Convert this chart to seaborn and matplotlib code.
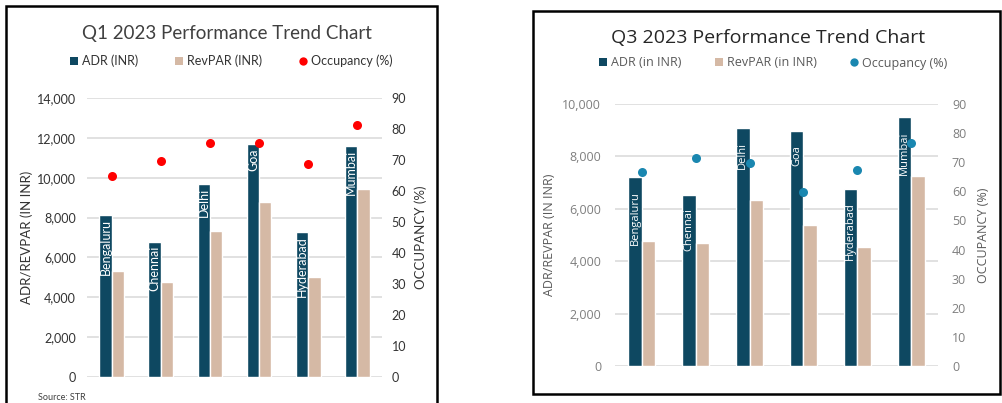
import numpy as np
import pandas as pd
import matplotlib
matplotlib.use("Agg")
import matplotlib.pyplot as plt
from matplotlib.lines import Line2D
from matplotlib.patches import Rectangle
from matplotlib.ticker import FuncFormatter, MultipleLocator
import seaborn as sns

# ---- data -------------------------------------------------------------
cities = ["Bengaluru", "Chennai", "Delhi", "Goa", "Hyderabad", "Mumbai"]

q1_adr = [8130, 6790, 9690, 11680, 7260, 11600]
q1_revpar = [5310, 4780, 7330, 8800, 5030, 9420]
q1_occupancy = [65.0, 69.7, 75.5, 75.5, 68.7, 81.4]

q3_adr = [7200, 6540, 9070, 8970, 6770, 9490]
q3_revpar = [4780, 4680, 6340, 5370, 4530, 7240]
q3_occupancy = [66.5, 71.3, 69.6, 59.7, 67.2, 76.5]

# ---- style ------------------------------------------------------------
ADR_COLOR = "#0E4861"
REVPAR_COLOR = "#D5B9A5"
GRID_COLOR = "#D9D9D9"

sns.set_theme(style="white")

W, H = 1003, 403
fig = plt.figure(figsize=(W / 100, H / 100), dpi=100)


def fx(px):
    return px / W


def fy(py):
    return 1 - py / H


def panel(box, ax_box, adr, revpar, occ, title, title_y, legend_labels,
          legend_xy, dot_color, ymax, ystep, font, text_color, tick_color,
          title_color, ylabel_x, y2label_x, fsize, bar_fsize, legend_fsize,
          title_size, label_size, bar_text_pad, pad_left, pad_right,
          col_space, weight):
    # frame around the panel
    x0, y0, x1, y1 = box
    fig.patches.append(Rectangle((fx(x0), fy(y1)), fx(x1 - x0), (y1 - y0) / H,
                                 transform=fig.transFigure, fill=False,
                                 edgecolor="black", linewidth=1.8, zorder=0))
    l, t, r, b = ax_box
    ax = fig.add_axes([fx(l), fy(b), fx(r - l), (b - t) / H])

    df = pd.DataFrame({
        "City": cities * 2,
        "Value": list(adr) + list(revpar),
        "Metric": ["ADR"] * len(cities) + ["RevPAR"] * len(cities),
    })
    sns.barplot(data=df, x="City", y="Value", hue="Metric",
                palette=[ADR_COLOR, REVPAR_COLOR], width=0.5, gap=0,
                saturation=1, legend=False, ax=ax, zorder=3)
    ax.set_ylim(0, ymax)
    ax.yaxis.set_major_locator(MultipleLocator(ystep))
    ax.yaxis.set_major_formatter(FuncFormatter(lambda v, p: f"{int(v):,}"))
    ax.grid(axis="y", color=GRID_COLOR, linewidth=1.1, zorder=0)
    ax.set_axisbelow(True)
    for s in ax.spines.values():
        s.set_visible(False)
    ax.set_xlabel("")
    ax.set_xticks([])
    ax.tick_params(axis="y", length=0, pad=pad_left, labelsize=fsize,
                   labelcolor=tick_color)
    for lab in ax.get_yticklabels():
        lab.set_fontfamily(font)
        lab.set_fontweight(weight)
    ax.set_ylabel("ADR/REVPAR (IN INR)", fontsize=label_size, color=text_color,
                  fontfamily=font, fontweight=weight)
    ax.yaxis.set_label_coords((ylabel_x - l) / (r - l), 0.5)

    # city names inside the ADR bars
    adr_bars = ax.containers[0]
    for patch, name in zip(adr_bars.patches, cities):
        ax.annotate(name, (patch.get_x() + patch.get_width() / 2,
                           patch.get_height()),
                    xytext=(0, -bar_text_pad), textcoords="offset points",
                    rotation=90, ha="center", va="top", color="white",
                    fontsize=bar_fsize, fontfamily=font, zorder=5)

    ax2 = ax.twinx()
    sns.stripplot(x=cities, y=occ, jitter=False, color=dot_color, size=6.5,
                  linewidth=0, ax=ax2, zorder=6)
    ax2.set_ylim(0, 90)
    ax2.yaxis.set_major_locator(MultipleLocator(10))
    ax2.set_xticks([])
    for s in ax2.spines.values():
        s.set_visible(False)
    ax2.tick_params(axis="y", length=0, pad=pad_right, labelsize=fsize,
                    labelcolor=tick_color)
    for lab in ax2.get_yticklabels():
        lab.set_fontfamily(font)
        lab.set_fontweight(weight)
    ax2.set_ylabel("OCCUPANCY (%)", fontsize=label_size, color=text_color,
                   fontfamily=font, fontweight=weight)
    ax2.yaxis.set_label_coords((y2label_x - l) / (r - l), 0.5)
    ax2.set_xlim(-0.5, len(cities) - 0.5)

    fig.text(fx((l + r) / 2 - 8), fy(title_y), title, ha="center",
             va="center", fontsize=title_size, color=title_color,
             fontfamily=font)

    handles = [
        Line2D([], [], marker="s", linestyle="none", markersize=6,
               markerfacecolor=ADR_COLOR, markeredgewidth=0),
        Line2D([], [], marker="s", linestyle="none", markersize=6,
               markerfacecolor=REVPAR_COLOR, markeredgewidth=0),
        Line2D([], [], marker="o", linestyle="none", markersize=6,
               markerfacecolor=dot_color, markeredgewidth=0),
    ]
    leg = ax.legend(handles, legend_labels, loc="center",
                    bbox_to_anchor=(fx(legend_xy[0]), fy(legend_xy[1])),
                    bbox_transform=fig.transFigure, ncol=3, frameon=False,
                    handlelength=0.7, handletextpad=0.3, columnspacing=col_space,
                    prop={"family": font, "size": legend_fsize,
                          "weight": weight})
    for txt in leg.get_texts():
        txt.set_color(text_color)
    return ax, ax2


panel(box=(6, 6, 437, 410), ax_box=(87, 98.3, 382, 376.7),
      adr=q1_adr, revpar=q1_revpar, occ=q1_occupancy,
      title="Q1 2023 Performance Trend Chart", title_y=33,
      legend_labels=["ADR (INR)", "RevPAR (INR)", "Occupancy (%)"],
      legend_xy=(231, 61), dot_color="#FF0000", ymax=14000, ystep=2000,
      font="Lato", text_color="#333333", tick_color="#333333",
      title_color="#404040", ylabel_x=33, y2label_x=414, fsize=9,
      bar_fsize=9, legend_fsize=9, title_size=13.5, label_size=9.5,
      bar_text_pad=3, pad_left=8, pad_right=7, col_space=2.9,
      weight="normal")

panel(box=(533, 11, 1000, 394), ax_box=(615, 104, 938, 366),
      adr=q3_adr, revpar=q3_revpar, occ=q3_occupancy,
      title="Q3 2023 Performance Trend Chart", title_y=38,
      legend_labels=["ADR (in INR)", "RevPAR (in INR)", "Occupancy (%)"],
      legend_xy=(773, 63), dot_color="#1A87B0", ymax=10000, ystep=2000,
      font="Open Sans", text_color="#595959", tick_color="#7F7F7F",
      title_color="#262626", ylabel_x=556, y2label_x=977, fsize=9,
      bar_fsize=8, legend_fsize=9, title_size=14, label_size=9,
      bar_text_pad=10, pad_left=10, pad_right=10, col_space=2.6,
      weight="normal")

fig.text(fx(38), fy(397), "Source: STR", ha="left", va="center",
         fontsize=6.5, color="#404040", fontfamily="Lato")

fig.savefig("out.png", dpi=100)
